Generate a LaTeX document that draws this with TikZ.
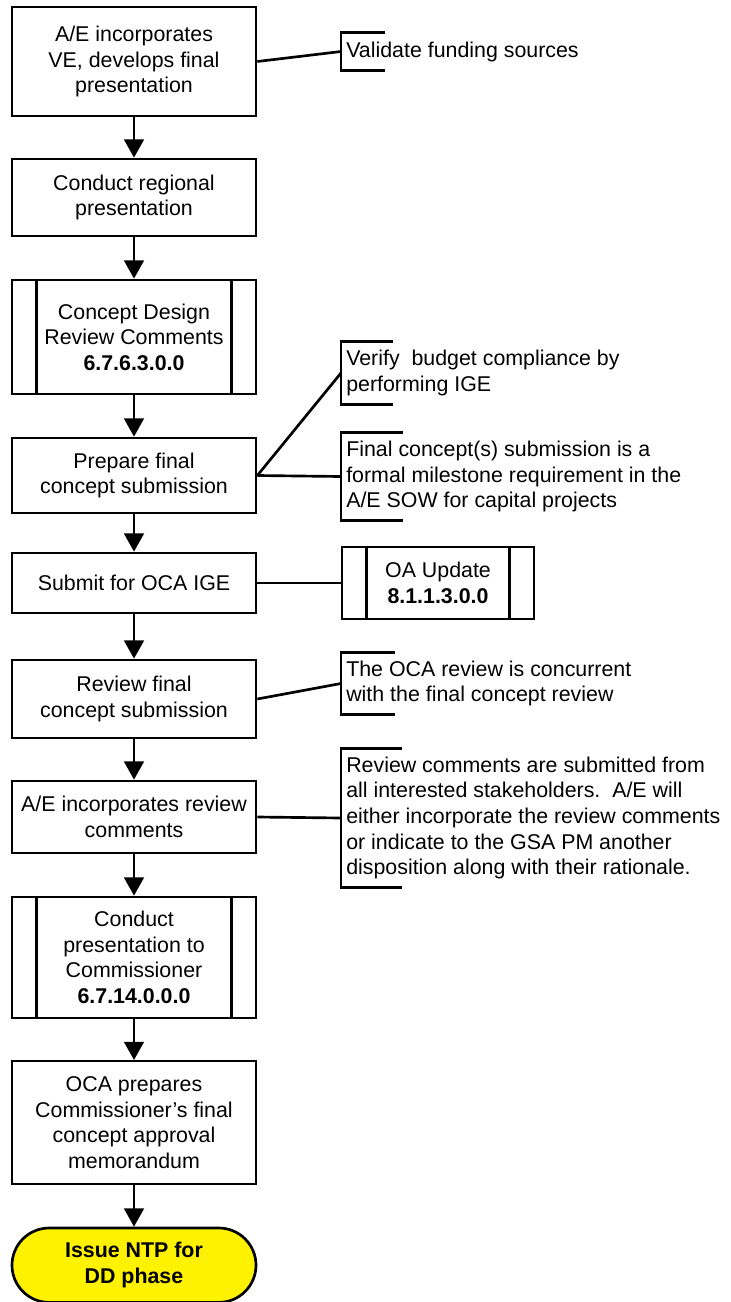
\documentclass[tikz,border=0pt]{standalone}
\usepackage{fontspec}
\setmainfont{Liberation Sans}
\usetikzlibrary{arrows.meta}
\newcommand\flowfont{\fontsize{15.2pt}{18.2pt}\selectfont}
\tikzset{
  procbox/.style={draw, line width=1.9pt, minimum width=6.1cm, align=center, inner sep=2pt, font=\flowfont},
  subproc/.style={procbox, path picture={
    \draw[line width=1.9pt]
      ([xshift=0.61cm]path picture bounding box.north west) -- ([xshift=0.61cm]path picture bounding box.south west)
      ([xshift=-0.61cm]path picture bounding box.north east) -- ([xshift=-0.61cm]path picture bounding box.south east);}},
  termbox/.style={procbox, fill=yellow, rounded corners=0.93cm, font=\flowfont\bfseries},
  notebox/.style={anchor=west, minimum height=#1, inner xsep=0.125cm, align=left, font=\flowfont},
  flow/.style={line width=1.9pt, -{Triangle[length=13pt,width=14pt]}},
  link/.style={line width=1.9pt}
}
% bracket on the left side of a note: node, arm length
\newcommand\notebracket[2]{\draw[link] ([xshift=#2]#1.north west) -- (#1.north west) -- (#1.south west) -- ([xshift=#2]#1.south west);}

\begin{document}
\begin{tikzpicture}
  \useasboundingbox (0,0) rectangle (18.275,-32.55);
  % main column
  \node[procbox, minimum height=2.725cm] (n1) at (3.35,-1.5375) {A/E incorporates\\VE, develops final\\presentation};
  \node[procbox, minimum height=1.925cm] (n2) at (3.35,-4.9375) {Conduct regional\\presentation};
  \node[subproc, minimum height=2.85cm] (n3) at (3.35,-8.425) {Concept Design\\Review Comments\\\textbf{6.7.6.3.0.0}};
  \node[procbox, minimum height=1.875cm] (n4) at (3.35,-11.8875) {Prepare final\\concept submission};
  \node[procbox, minimum height=1.5cm] (n5) at (3.35,-14.575) {Submit for OCA IGE};
  \node[procbox, minimum height=1.95cm] (n6) at (3.35,-17.475) {Review final\\concept submission};
  \node[procbox, minimum height=1.8cm] (n7) at (3.35,-20.425) {A/E incorporates review\\comments};
  \node[subproc, minimum height=3.025cm] (n8) at (3.35,-23.9375) {Conduct\\presentation to\\Commissioner\\\textbf{6.7.14.0.0.0}};
  \node[procbox, line width=1.4pt, minimum height=3.075cm] (n9) at (3.35,-28.0625) {OCA prepares\\Commissioner's final\\concept approval\\memorandum};
  \node[termbox, minimum height=1.86cm] (n10) at (3.35,-31.63) {Issue NTP for\\DD phase};
  \foreach \a/\b in {n1/n2, n2/n3, n3/n4, n4/n5, n5/n6, n6/n7, n7/n8, n8/n9, n9/n10}
    \draw[flow] (\a) -- (\b);

  % notes
  \node[notebox=0.925cm] (v1) at (8.525,-1.2875) {Validate funding sources};
  \node[notebox=1.55cm] (v2) at (8.525,-9.325) {Verify\ \ budget compliance by\\performing IGE};
  \node[notebox=2.175cm] (v3) at (8.525,-11.9125) {Final concept(s) submission is a\\formal milestone requirement in the\\A/E SOW for capital projects};
  \node[subproc, minimum width=4.8cm, minimum height=1.8cm] (oa) at (10.95,-14.575) {OA Update\\\textbf{8.1.1.3.0.0}};
  \node[notebox=1.525cm] (v4) at (8.525,-17.0875) {The OCA review is concurrent\\with the final concept review};
  \node[notebox=3.45cm] (v5) at (8.525,-20.45) {Review comments are submitted from\\all interested stakeholders.\ \ A/E will\\either incorporate the review comments\\or indicate to the GSA PM another\\disposition along with their rationale.};
  \notebracket{v1}{1.1cm}
  \notebracket{v2}{1.3cm}
  \notebracket{v3}{1.55cm}
  \notebracket{v4}{1.35cm}
  \notebracket{v5}{1.525cm}

  \draw[link] (n1.east) -- (v1.west);
  \draw[link] (n4.east) -- (v2.west);
  \draw[link] (n4.east) -- (v3.west);
  \draw[link] (n5.east) -- (oa.west);
  \draw[link] (n6.east) -- (v4.west);
  \draw[link] (n7.east) -- (v5.west);
\end{tikzpicture}
\end{document}
